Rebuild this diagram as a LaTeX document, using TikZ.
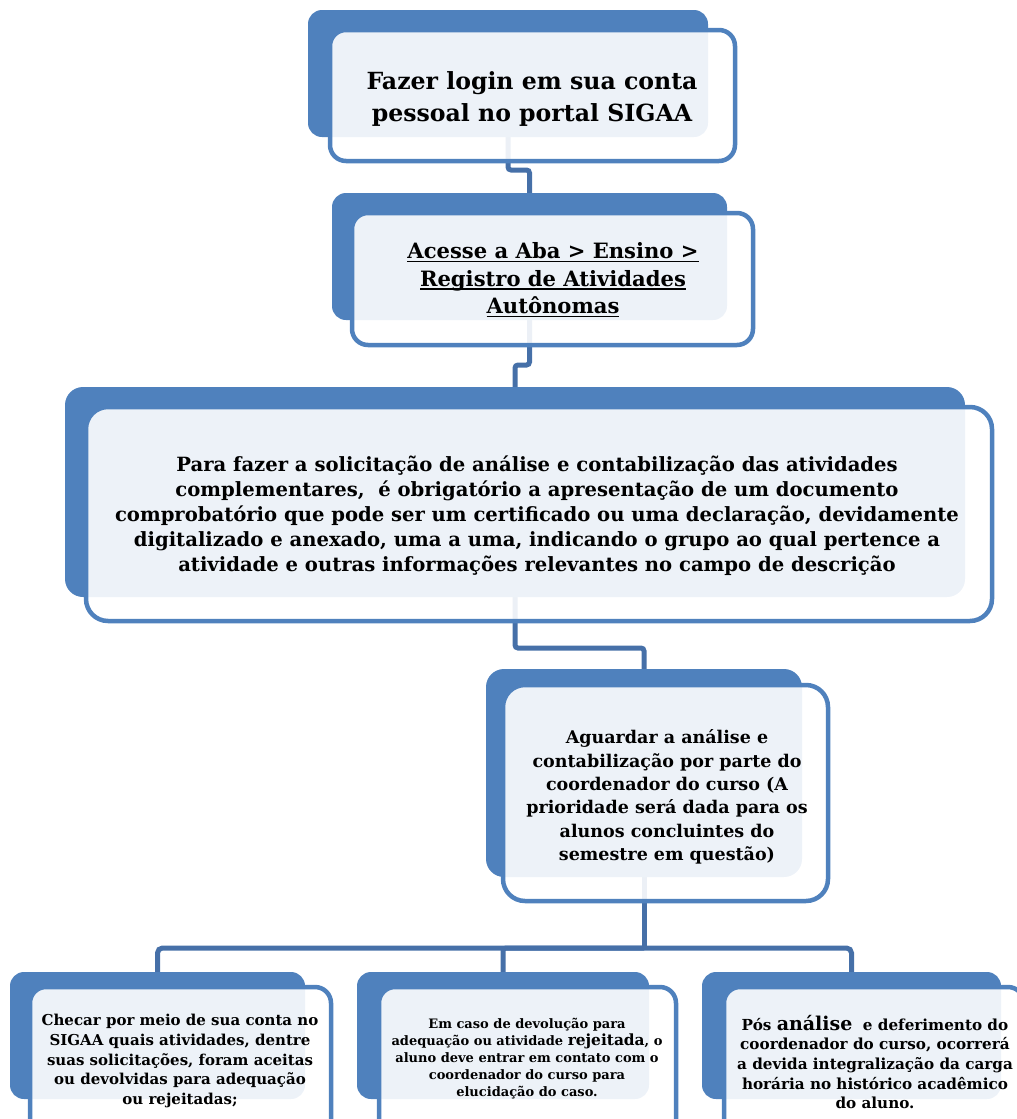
\documentclass[tikz,border=0pt]{standalone}
\usepackage{fontspec}
\setmainfont{DejaVu Serif}
\newsavebox\ulbox
\newcommand\myul[1]{\sbox\ulbox{#1}\rlap{\rule[-3.5pt]{\wd\ulbox}{1.6pt}}\usebox\ulbox}
\usetikzlibrary{backgrounds}
\definecolor{sblue}{HTML}{4F81BD}
\definecolor{cblue}{HTML}{4670A8}
\tikzset{
  backbox/.style={fill=sblue, draw=none, inner sep=0pt, outer sep=0pt},
  frontbox/.style={fill=white, fill opacity=0.9, draw=sblue, draw opacity=1, line width=4.5pt, inner sep=0pt, outer sep=0pt},
  conn/.style={draw=cblue, line width=5pt, rounded corners=3pt},
  txt/.style={align=center, text=black, inner sep=0pt, font=\bfseries},
}
\begin{document}
\begin{tikzpicture}[x=1pt,y=-1pt]
\useasboundingbox (0,0) rectangle (1017,1119);

% back boxes
\node[backbox, rounded corners=14pt, minimum width=400, minimum height=127] (b1) at (508,73.5) {};
\node[backbox, rounded corners=14pt, minimum width=395, minimum height=127] (b2) at (529.5,256.5) {};
\node[backbox, rounded corners=18pt, minimum width=900, minimum height=210] (b3) at (515,492) {};
\node[backbox, rounded corners=18pt, minimum width=316, minimum height=208] (b4) at (644,773) {};
\node[backbox, rounded corners=14pt, minimum width=295, minimum height=127] (b5) at (157.5,1035.5) {};
\node[backbox, rounded corners=14pt, minimum width=292, minimum height=127] (b6) at (503,1035.5) {};
\node[backbox, rounded corners=14pt, minimum width=299, minimum height=127] (b7) at (851.5,1035.5) {};

% connectors (behind)
\begin{scope}[on background layer]
\draw[conn] (b1.south) -- ++(0,33) -| (b2.north);
\draw[conn] (b2.south) -- ++(0,45) -| (b3.north);
\draw[conn] (b3.south) -- ++(0,51) -| (b4.north);
\draw[conn] (b4.south) -- ++(0,71) coordinate (hub);
\draw[conn, rounded corners=5pt] (hub) -| (b5.north);
\draw[conn] (hub) -| (b6.north);
\draw[conn, rounded corners=5pt] (hub) -| (b7.north);
\end{scope}

% front boxes
\node[frontbox, rounded corners=16pt, minimum width=405, minimum height=131] (f1) at (532.5,95.5) {};
\node[frontbox, rounded corners=16pt, minimum width=401, minimum height=132] (f2) at (552.5,279) {};
\node[frontbox, rounded corners=22pt, minimum width=906, minimum height=214] (f3) at (539,514) {};
\node[frontbox, rounded corners=22pt, minimum width=325, minimum height=216] (f4) at (665.5,793) {};
\node[frontbox, rounded corners=16pt, minimum width=301, minimum height=150] (f5) at (180.5,1062) {};
\node[frontbox, rounded corners=16pt, minimum width=297, minimum height=150] (f6) at (527.5,1062) {};
\node[frontbox, rounded corners=16pt, minimum width=300, minimum height=150] (f7) at (874,1062) {};

% texts
\node[txt, font=\bfseries\fontsize{23.6}{32}\selectfont] (t1) at (532,99)
  {Fazer login em sua conta\\pessoal no portal SIGAA};
\node[txt, font=\bfseries\fontsize{21.1}{27.5}\selectfont] (t2) at (553,280)
  {\myul{Acesse a Aba > Ensino >}\\\myul{Registro de Atividades}\\\myul{Autônomas}};
\node[txt, font=\bfseries\fontsize{19.6}{25}\selectfont] (t3) at (537,516)
  {Para fazer a solicitação de análise e contabilização das atividades\\
   complementares,\ \ é obrigatório a apresentação de um documento\\
   comprobatório que pode ser um certificado ou uma declaração, devidamente\\
   digitalizado e anexado, uma a uma, indicando o grupo ao qual pertence a\\
   atividade e outras informações relevantes no campo de descrição};
\node[txt, font=\bfseries\fontsize{17.5}{23.3}\selectfont] (t4) at (667,797)
  {Aguardar a análise e\\contabilização por parte do\\coordenador do curso (A\\prioridade será dada para os\\alunos concluintes do\\semestre em questão)};
\node[txt, font=\bfseries\fontsize{15}{19.7}\selectfont] (t5) at (180,1061)
  {Checar por meio de sua conta no\\SIGAA quais atividades, dentre\\suas solicitações, foram aceitas\\ou devolvidas para adequação\\ou rejeitadas;};
\node[txt, font=\bfseries\fontsize{13}{17}\selectfont] (t6) at (527,1059)
  {Em caso de devolução para\\adequação ou atividade {\fontsize{15.4}{17}\selectfont rejeitada}, o\\aluno deve entrar em contato com o\\coordenador do curso para\\elucidação do caso.};
\node[txt, font=\bfseries\fontsize{15.2}{19.7}\selectfont] (t7) at (875,1062)
  {Pós {\fontsize{19}{19.7}\selectfont análise}\ \ e deferimento do\\coordenador do curso, ocorrerá\\a devida integralização da carga\\horária no histórico acadêmico\\do aluno.};
\end{tikzpicture}
\end{document}
